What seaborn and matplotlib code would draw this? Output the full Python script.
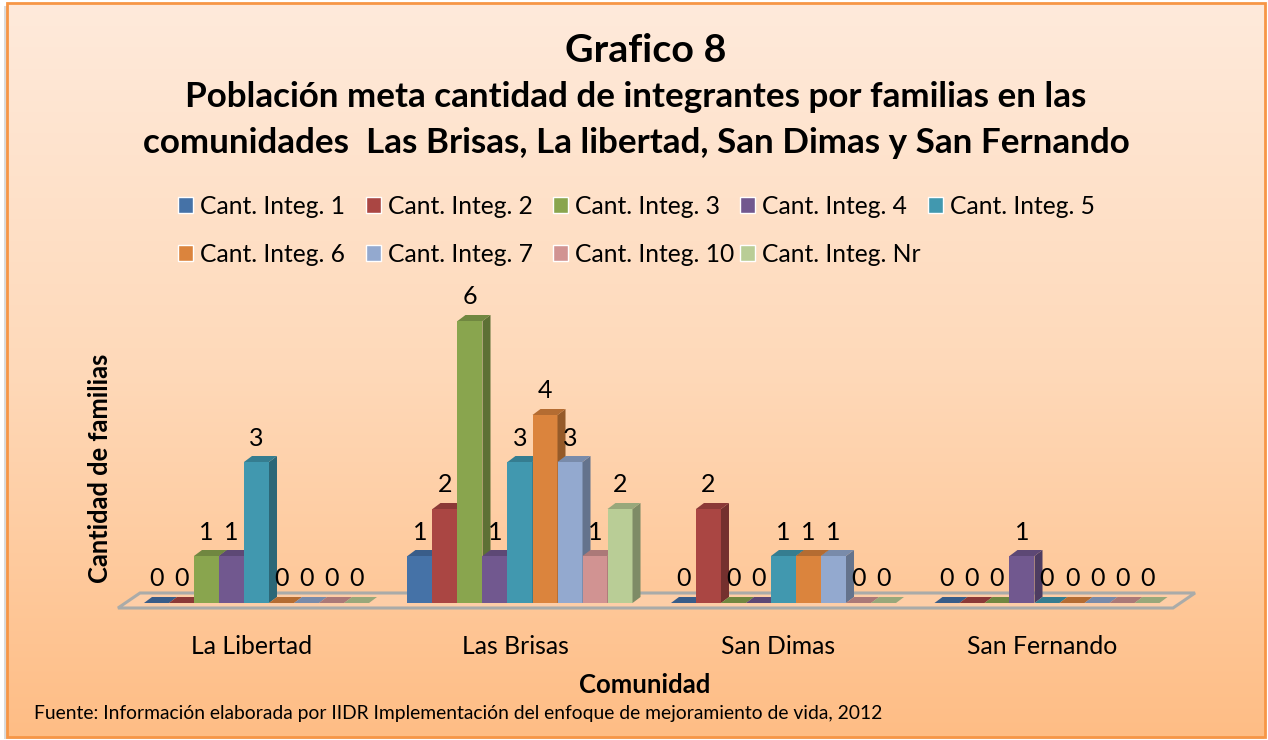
import numpy as np
import pandas as pd
import matplotlib
matplotlib.use("Agg")
import matplotlib.pyplot as plt
from matplotlib.patches import Polygon, Rectangle
from matplotlib.colors import LinearSegmentedColormap, to_rgb
from matplotlib.transforms import ScaledTranslation
import seaborn as sns

communities = ["La Libertad", "Las Brisas", "San Dimas", "San Fernando"]
series_names = ["Cant. Integ. 1", "Cant. Integ. 2", "Cant. Integ. 3", "Cant. Integ. 4", "Cant. Integ. 5",
                "Cant. Integ. 6", "Cant. Integ. 7", "Cant. Integ. 10", "Cant. Integ. Nr"]
integ_1 = [0, 1, 0, 0]
integ_2 = [0, 2, 2, 0]
integ_3 = [1, 6, 0, 0]
integ_4 = [1, 1, 0, 1]
integ_5 = [3, 3, 1, 0]
integ_6 = [0, 4, 1, 0]
integ_7 = [0, 3, 1, 0]
integ_10 = [0, 1, 0, 0]
integ_nr = [0, 2, 0, 0]
colors = ["#4572A7", "#AA4643", "#89A54E", "#71588F", "#4198AF", "#DB843D", "#93A9CF", "#D19392", "#B9CD96"]
title_line_1 = "Grafico 8"
title_line_2 = "Población meta cantidad de integrantes por familias en las"
title_line_3 = "comunidades  Las Brisas, La libertad, San Dimas y San Fernando"
source_text = "Fuente: Información elaborada por IIDR Implementación del enfoque de mejoramiento de vida, 2012"

all_values = [integ_1, integ_2, integ_3, integ_4, integ_5, integ_6, integ_7, integ_10, integ_nr]
df = pd.DataFrame({
    "Comunidad": communities * len(series_names),
    "Serie": np.repeat(series_names, len(communities)),
    "Familias": np.concatenate(all_values),
})

sns.set_theme(style="white")
plt.rcParams["font.family"] = ["Lato", "DejaVu Sans"]
W, H = 1268, 740
fig = plt.figure(figsize=(W / 100, H / 100), dpi=100, facecolor="white")

# panel background
bg = fig.add_axes([0, 0, 1, 1], zorder=0)
bg.set_xlim(0, W)
bg.set_ylim(H, 0)
bg.axis("off")
cmap = LinearSegmentedColormap.from_list("g", ["#FEEADB", "#FFD9B9", "#FEBD85"])
bg.add_patch(Rectangle((4, 6), 1260, 733, fc="#B8B8B8", ec="none", alpha=0.5))
bg.imshow(np.linspace(0, 1, 256)[:, None], cmap=cmap, extent=(7, 1265, 737, 3), aspect="auto", zorder=1)
bg.set_xlim(0, W)
bg.set_ylim(H, 0)
bg.add_patch(Rectangle((7, 3), 1258, 734, fc="none", ec="#F79646", lw=2, zorder=2))
bg.add_patch(Polygon([(118, 608), (1173, 608), (1195, 593), (140, 593)], closed=True,
                     fc="#FFCFA8", ec="#A6AAAA", lw=2.2, alpha=0.95, zorder=3))

# plot axes
GROUP_PX = 263.5
UNIT_PX = 47.0
left, right = 124.75, 124.75 + 4 * GROUP_PX
base, top = 603.0, 603.0 - 7 * UNIT_PX
ax = fig.add_axes([left / W, 1 - base / H, (right - left) / W, (base - top) / H], zorder=1)
ax.patch.set_alpha(0)
sns.barplot(data=df, x="Comunidad", y="Familias", hue="Serie", order=communities, hue_order=series_names,
            palette=colors, width=0.854, gap=0, saturation=1, errorbar=None, ax=ax)
handles, labels = ax.get_legend_handles_labels()
if ax.get_legend() is not None:
    ax.get_legend().remove()
ax.set_xlim(-0.5, 3.5)
ax.set_ylim(0, 7)
sns.despine(ax=ax, left=True, bottom=True)
ax.set_yticks([])
ax.tick_params(axis="x", length=0, pad=23, labelsize=17.8, colors="black")
shift = ScaledTranslation(-5 / 100, 0, fig.dpi_scale_trans)
for t in ax.get_xticklabels():
    t.set_transform(t.get_transform() + shift)

# 3-D side and top faces derived from each bar
dx = 8 / GROUP_PX
dy = 6 / UNIT_PX


def shade(c, f):
    return tuple(v * f for v in to_rgb(c))


for i, container in enumerate(ax.containers):
    for bar in container:
        x0, w, h = bar.get_x(), bar.get_width(), bar.get_height()
        x1 = x0 + w
        bar.set_zorder(10 + i)
        bar.set_clip_on(False)
        bar.set_linewidth(0)
        ax.add_patch(Polygon([(x1, 0), (x1 + dx, dy), (x1 + dx, h + dy), (x1, h)], closed=True,
                             fc=shade(colors[i], 0.68), ec="none", zorder=10 + i, clip_on=False))
        ax.add_patch(Polygon([(x0, h), (x0 + dx, h + dy), (x1 + dx, h + dy), (x1, h)], closed=True,
                             fc=shade(colors[i], 0.82), ec="none", zorder=10 + i, clip_on=False))
    ax.bar_label(container, fmt="%d", padding=9, fontsize=18, color="black", zorder=100)

ax.set_xlabel("Comunidad", fontsize=18.5, fontweight="bold", color="black")
ax.xaxis.set_label_coords((645 - left) / (right - left), -(685 - base) / (base - top))
ax.xaxis.label.set_va("center")
ax.set_ylabel("Cantidad de familias", fontsize=18.4, fontweight="bold", color="black")
ax.yaxis.set_label_coords((100 - left) / (right - left), (base - 468) / (base - top))
ax.yaxis.label.set_va("center")

# title and source
title_specs = [(title_line_1, 646, 50, 28.4), (title_line_2, 636, 97, 25.2), (title_line_3, 636, 143, 25.2)]
for text, x_px, y_px, size in title_specs:
    fig.text(x_px / W, 1 - y_px / H, text, ha="center", va="center", fontsize=size, fontweight="bold",
             color="black")
fig.text(34 / W, 1 - 714 / H, source_text, ha="left", va="center", fontsize=13.9, color="black")

# legend rows
FS = 17.7
px = lambda v: v * 72 / 100 / FS
by_label = dict(zip(labels, handles))
rows = [(series_names[:5], 178, 206), (series_names[5:8], 178, 254), (series_names[8:], 740, 254)]
for names, x_px, y_px in rows:
    fig.legend([by_label[n] for n in names], names, loc="center left",
               bbox_to_anchor=(x_px / W, 1 - y_px / H), ncol=len(names), frameon=False, fontsize=FS,
               borderpad=0, borderaxespad=0, handlelength=px(15), handleheight=px(15),
               handletextpad=px(7), columnspacing=px(20.5), labelcolor="black")

fig.savefig("out.png", dpi=100)
